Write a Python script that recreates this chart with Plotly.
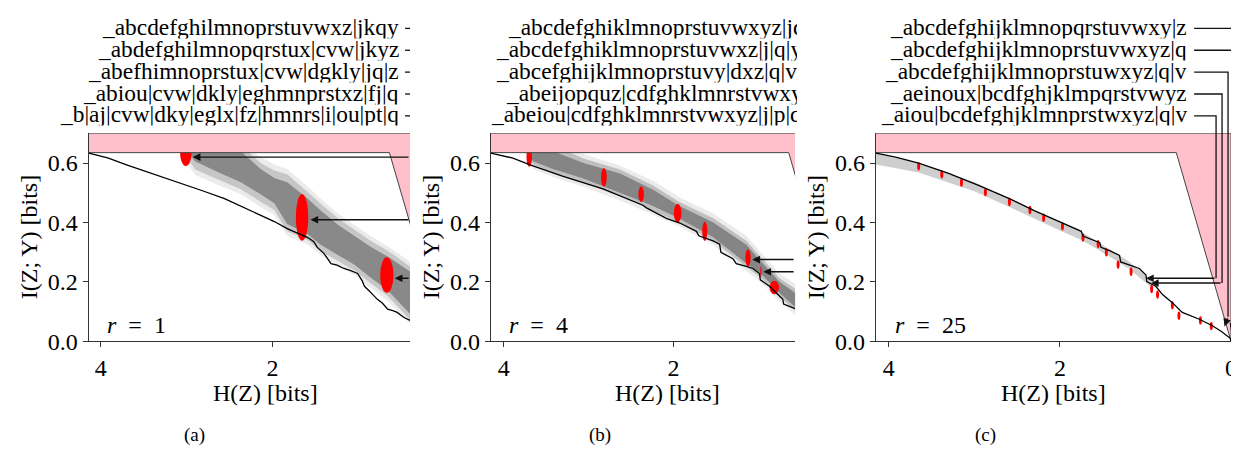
import plotly.graph_objects as go

FIG_W, FIG_H = 1239, 457

# ================= data =================
# lower frontier I(Z;Y) vs H(Z) for each panel
curve_a_h = [4.14, 3.92, 3.70, 3.40, 3.10, 2.80, 2.56, 2.25, 1.98, 1.83, 1.70, 1.59,
             1.52, 1.48, 1.40, 1.32, 1.25, 1.17, 1.09, 1.01, 0.96, 0.93, 0.85, 0.78,
             0.72, 0.66, 0.60, 0.55, 0.47, 0.40]
curve_a_i = [0.633, 0.617, 0.594, 0.565, 0.534, 0.505, 0.480, 0.440, 0.403, 0.379, 0.362, 0.349,
             0.335, 0.316, 0.295, 0.261, 0.256, 0.245, 0.238, 0.228, 0.205, 0.185, 0.162, 0.141,
             0.128, 0.108, 0.103, 0.097, 0.080, 0.070]

curve_b_h = [4.153, 3.90, 3.69, 3.30, 2.83, 2.36, 2.318, 2.082, 1.925, 1.729, 1.70, 1.533,
             1.455, 1.44, 1.298, 1.259, 1.141, 1.062, 0.985, 0.975, 0.867, 0.788, 0.71, 0.70, 0.565]
curve_b_i = [0.633, 0.617, 0.594, 0.555, 0.513, 0.458, 0.449, 0.414, 0.398, 0.370, 0.355, 0.338,
             0.327, 0.299, 0.278, 0.261, 0.252, 0.245, 0.228, 0.207, 0.185, 0.163, 0.141, 0.125, 0.110]

curve_c_h = [4.15, 3.92, 3.65, 3.30, 2.95, 2.59, 2.30, 2.00, 1.75, 1.73, 1.534, 1.52, 1.42,
             1.303, 1.29, 1.072, 0.994, 0.985, 0.879, 0.801, 0.686, 0.57, 0.378, 0.223, 0.108,
             0.01, 0.0]
curve_c_i = [0.633, 0.620, 0.600, 0.565, 0.525, 0.480, 0.440, 0.403, 0.370, 0.354, 0.332, 0.316,
             0.305, 0.289, 0.267, 0.245, 0.223, 0.201, 0.185, 0.157, 0.130, 0.097, 0.075, 0.053,
             0.032, 0.010, 0.0]

# grey cloud of candidate solutions: halo, envelope and darker core
band_a_h = [3.00, 2.90, 2.60, 2.37, 2.14, 1.98, 1.83, 1.59, 1.44, 1.24, 1.05, 0.86, 0.66, 0.40]
halo_a_top = [0.66, 0.66, 0.66, 0.66, 0.620, 0.595, 0.580, 0.520, 0.480, 0.430, 0.392, 0.354, 0.320, 0.268]
halo_a_bot = [0.60, 0.560, 0.522, 0.495, 0.452, 0.425, 0.355, 0.325, 0.290, 0.255, 0.224, 0.180, 0.136, 0.058]
band_a_top = [0.66, 0.66, 0.66, 0.66, 0.600, 0.575, 0.562, 0.502, 0.463, 0.414, 0.376, 0.338, 0.305, 0.252]
band_a_bot = [0.62, 0.578, 0.540, 0.512, 0.470, 0.442, 0.370, 0.340, 0.305, 0.270, 0.239, 0.196, 0.152, 0.072]
core_a_top = [0.66, 0.66, 0.650, 0.640, 0.580, 0.550, 0.535, 0.480, 0.440, 0.392, 0.355, 0.318, 0.285, 0.235]
core_a_bot = [0.64, 0.605, 0.565, 0.535, 0.495, 0.465, 0.395, 0.360, 0.325, 0.290, 0.258, 0.215, 0.172, 0.092]

band_b_h = [3.73, 3.65, 3.42, 3.06, 2.63, 2.24, 1.93, 1.53, 1.14, 0.97, 0.75, 0.55]
halo_b_top = [0.66, 0.66, 0.66, 0.630, 0.592, 0.540, 0.485, 0.430, 0.355, 0.300, 0.228, 0.190]
halo_b_bot = [0.61, 0.580, 0.553, 0.520, 0.474, 0.426, 0.386, 0.324, 0.236, 0.200, 0.135, 0.085]
band_b_top = [0.66, 0.66, 0.66, 0.615, 0.578, 0.524, 0.469, 0.414, 0.338, 0.283, 0.212, 0.174]
band_b_bot = [0.62, 0.594, 0.567, 0.534, 0.488, 0.440, 0.400, 0.338, 0.250, 0.215, 0.150, 0.100]
core_b_top = [0.66, 0.65, 0.64, 0.600, 0.565, 0.510, 0.455, 0.400, 0.325, 0.270, 0.200, 0.160]
core_b_bot = [0.63, 0.605, 0.58, 0.548, 0.500, 0.455, 0.413, 0.350, 0.262, 0.228, 0.163, 0.112]

band_c_h = [4.15, 3.65, 3.00, 2.59, 2.00, 1.73, 1.42, 1.20, 0.93]
band_c_top = [0.632, 0.600, 0.535, 0.480, 0.400, 0.365, 0.310, 0.270, 0.205]
band_c_bot = [0.595, 0.568, 0.505, 0.452, 0.373, 0.338, 0.285, 0.245, 0.182]

# red ellipses (selected solutions): centre H, centre I, width in H, height in I
red_a_h = [3.01, 1.657, 0.67]
red_a_i = [0.635, 0.417, 0.223]
red_a_w = [0.135, 0.144, 0.155]
red_a_ht = [0.09, 0.158, 0.12]

red_b_h = [3.70, 2.82, 2.38, 1.95, 1.63, 1.12, 0.968, 0.81]
red_b_i = [0.62, 0.552, 0.495, 0.432, 0.370, 0.281, 0.234, 0.181]
red_b_w = [0.065, 0.067, 0.066, 0.09, 0.06, 0.063, 0.015, 0.11]
red_b_ht = [0.065, 0.063, 0.052, 0.062, 0.065, 0.058, 0.037, 0.045]

red_c_h = [3.65, 3.38, 3.15, 2.87, 2.59, 2.35, 2.19, 1.97, 1.73, 1.553, 1.457, 1.32,
           1.168, 0.928, 0.859, 0.686, 0.609, 0.358, 0.231]
red_c_i = [0.589, 0.562, 0.534, 0.502, 0.469, 0.442, 0.416, 0.387, 0.349, 0.327, 0.299, 0.258,
           0.234, 0.176, 0.157, 0.121, 0.086, 0.070, 0.051]

# infeasible region (pink)
pink_h = [4.6, 0.0, 0.0, 0.64, 4.6]
pink_i = [0.70, 0.70, 0.0, 0.635, 0.635]

# annotated solutions (arrow heads)
arrow_a_h = [2.93, 1.56, 0.578]
arrow_a_i = [0.62, 0.409, 0.212]
arrow_b_h = [1.07, 0.94]
arrow_b_i = [0.275, 0.234]
arrow_c_h = [-0.027, 0.0, 0.077, 0.936, 0.994]
arrow_c_i = [0.017, 0.034, 0.050, 0.196, 0.212]

labels_a = ["_abcdefghilmnoprstuvwxz|jkqy",
            "_abdefghilmnopqrstux|cvw|jkyz",
            "_abefhimnoprstux|cvw|dgkly|jq|z",
            "_abiou|cvw|dkly|eghmnprstxz|fj|q",
            "_b|aj|cvw|dky|eglx|fz|hmnrs|i|ou|pt|q"]
labels_b = ["_abcdefghiklmnoprstuvwxyz|jq",
            "_abcdefghiklmnoprstuvwxz|j|q|y",
            "_abcefghijklmnoprstuvy|dxz|q|v",
            "_abeijopquz|cdfghklmnrstvwxyz",
            "_abeiou|cdfghklmnrstvwxyz|j|p|q"]
labels_c = ["_abcdefghijklmnopqrstuvwxy|z",
            "_abcdefghijklmnoprstuvwxyz|q",
            "_abcdefghijklmnoprstuwxyz|q|v",
            "_aeinoux|bcdfghjklmpqrstvwyz",
            "_aiou|bcdefghjklmnprstwxyz|q|v"]
r_values = ["1", "4", "25"]
captions = ["(a)", "(b)", "(c)"]
x_ticks = [[4, 2], [4, 2], [4, 2, 0]]
y_ticks = [0.0, 0.2, 0.4, 0.6]

# ================= layout (pixels) =================
Y_TOP_PX, Y_BOT_PX, Y_MAX = 129, 343, 0.70
PANELS = [
    dict(sfx="", px=(81, 403), rng=(4.14, 0.40)),
    dict(sfx="2", px=(484, 789), rng=(4.153, 0.565)),
    dict(sfx="3", px=(870, 1228.6), rng=(4.15, -0.03)),
]
SERIF = "'Liberation Serif', 'Times New Roman', Times, 'Nimbus Roman', 'DejaVu Serif', serif"
FS_LAB = 23.4
FS_AX = 24
LABEL_Y = [20, 42.5, 65, 87.5, 110]


def px2h(p, px):
    (a, b), (r0, r1) = p["px"], p["rng"]
    return r0 + (px - a) / (b - a) * (r1 - r0)


def i2py(i):
    return Y_BOT_PX - i / Y_MAX * (Y_BOT_PX - Y_TOP_PX)


def py2i(py):
    return (Y_BOT_PX - py) / (Y_BOT_PX - Y_TOP_PX) * Y_MAX


def pxp(px):
    return px / FIG_W


def pyp(py):
    return 1 - py / FIG_H


shapes = []
annotations = []


def band_shape(p, h, top, bot, color):
    pts = list(zip(h, top)) + list(zip(h[::-1], bot[::-1]))
    path = "M " + " L ".join(f"{x},{y}" for x, y in pts) + " Z"
    shapes.append(dict(type="path", xref="x" + p["sfx"], yref="y" + p["sfx"], path=path,
                       fillcolor=color, line=dict(width=0), layer="below"))


def ellipse_shapes(p, hs, is_, ws, hts):
    for h, i, w, ht in zip(hs, is_, ws, hts):
        shapes.append(dict(type="circle", xref="x" + p["sfx"], yref="y" + p["sfx"],
                           x0=h - w / 2, x1=h + w / 2, y0=i - ht / 2, y1=i + ht / 2,
                           fillcolor="red", line=dict(width=0), layer="below"))


def pink_shape(p):
    path = "M " + " L ".join(f"{x},{y}" for x, y in zip(pink_h, pink_i)) + " Z"
    shapes.append(dict(type="path", xref="x" + p["sfx"], yref="y" + p["sfx"], path=path,
                       fillcolor="pink", line=dict(width=1, color="#444"), layer="below"))


pa, pb, pc = PANELS
band_shape(pa, band_a_h, halo_a_top, halo_a_bot, "rgba(60,60,60,0.10)")
band_shape(pa, band_a_h, band_a_top, band_a_bot, "rgba(50,50,50,0.20)")
band_shape(pa, band_a_h, core_a_top, core_a_bot, "rgba(30,30,30,0.36)")
band_shape(pb, band_b_h, halo_b_top, halo_b_bot, "rgba(60,60,60,0.10)")
band_shape(pb, band_b_h, band_b_top, band_b_bot, "rgba(50,50,50,0.24)")
band_shape(pb, band_b_h, core_b_top, core_b_bot, "rgba(30,30,30,0.36)")
band_shape(pc, band_c_h, band_c_top, band_c_bot, "rgba(60,60,60,0.25)")
ellipse_shapes(pa, red_a_h, red_a_i, red_a_w, red_a_ht)
ellipse_shapes(pb, red_b_h, red_b_i, red_b_w, red_b_ht)
ellipse_shapes(pc, red_c_h, red_c_i, [0.035] * len(red_c_h), [0.028] * len(red_c_h))
for p in PANELS:
    pink_shape(p)

fig = go.Figure()
for p, hh, ii in zip(PANELS, [curve_a_h, curve_b_h, curve_c_h], [curve_a_i, curve_b_i, curve_c_i]):
    fig.add_trace(go.Scatter(x=hh, y=ii, mode="lines", line=dict(color="black", width=1.3),
                             xaxis="x" + p["sfx"], yaxis="y" + p["sfx"], showlegend=False,
                             hoverinfo="skip"))

ARROW = dict(showarrow=True, arrowhead=2, arrowsize=1.1, arrowwidth=1.4, arrowcolor="#111",
             standoff=0, text="")

# arrows from the right edge in panels (a) and (b)
for p, hs, is_ in [(pa, arrow_a_h, arrow_a_i), (pb, arrow_b_h, arrow_b_i)]:
    for h, i in zip(hs, is_):
        annotations.append(dict(ARROW, xref="x" + p["sfx"], yref="y" + p["sfx"], x=h, y=i,
                                axref="x" + p["sfx"], ayref="y" + p["sfx"], ax=p["rng"][1], ay=i))

TXT = dict(family=SERIF, size=FS_LAB, color="black")
AXT = dict(family=SERIF, size=FS_AX, color="black")
ROW_H = 22.5

# panel (a) labels (right aligned) + clipped connector stubs
for k, t in enumerate(labels_a):
    annotations.append(dict(xref="paper", yref="paper", x=pxp(393), y=pyp(LABEL_Y[k]),
                            xanchor="right", yanchor="middle", text=t, showarrow=False,
                            font=TXT, borderpad=0, height=ROW_H))
    shapes.append(dict(type="line", xref="paper", yref="paper", x0=pxp(398), x1=pxp(403),
                       y0=pyp(LABEL_Y[k] + 1), y1=pyp(LABEL_Y[k] + 1),
                       line=dict(color="#111", width=1.3)))

# panel (b) labels, clipped at the panel edge
starts_b = [500, 488, 488, 498, 483]
for k, t in enumerate(labels_b):
    annotations.append(dict(xref="paper", yref="paper", x=pxp(starts_b[k]), y=pyp(LABEL_Y[k]),
                            xanchor="left", yanchor="middle", text=t, showarrow=False,
                            width=789 - starts_b[k], height=ROW_H, borderpad=0,
                            align="left", font=TXT))

# panel (c) labels with elbow connectors
vx_c = [1235, 1229, 1223, 1217, 1211]
for k, t in enumerate(labels_c):
    annotations.append(dict(xref="paper", yref="paper", x=pxp(1183), y=pyp(LABEL_Y[k]),
                            xanchor="right", yanchor="middle", text=t, showarrow=False,
                            font=TXT, borderpad=0, height=ROW_H))
    ty = i2py(arrow_c_i[k])
    tail_py = ty if k >= 3 else ty - 10
    yl = LABEL_Y[k] + 1
    shapes.append(dict(type="path", xref="paper", yref="paper",
                       path=f"M {pxp(1189)},{pyp(yl)} L {pxp(vx_c[k])},{pyp(yl)} L {pxp(vx_c[k])},{pyp(tail_py)}",
                       line=dict(color="#111", width=1.3)))
    annotations.append(dict(ARROW, xref="x3", yref="y3", x=arrow_c_h[k], y=arrow_c_i[k],
                            axref="x3", ayref="y3", ax=px2h(pc, vx_c[k]), ay=py2i(tail_py)))

# r labels, axis titles, captions
r_x = [129, 532, 925]
xt_x = [258, 661, 1048]
yt_x = [21, 424, 810]
cap_x = [187, 593, 980]
for k in range(3):
    annotations.append(dict(xref="paper", yref="paper", x=pxp(r_x[k]), y=pyp(326),
                            xanchor="center", yanchor="middle", showarrow=False,
                            text=f"<i>r</i>\u2002=\u2002{r_values[k]}", font=AXT,
                            borderpad=0, height=24))
    annotations.append(dict(xref="paper", yref="paper", x=pxp(xt_x[k]), y=pyp(396),
                            xanchor="center", yanchor="middle", showarrow=False,
                            text="H(Z) [bits]", font=AXT, borderpad=0, height=25))
    annotations.append(dict(xref="paper", yref="paper", x=pxp(yt_x[k]), y=pyp(236),
                            xanchor="center", yanchor="middle", showarrow=False, textangle=-90,
                            text="I(Z; Y) [bits]", font=AXT, borderpad=0))
    annotations.append(dict(xref="paper", yref="paper", x=pxp(cap_x[k]), y=pyp(440),
                            xanchor="center", yanchor="middle", showarrow=False,
                            text=captions[k], font=dict(family=SERIF, size=19, color="black")))

layout = dict(width=FIG_W, height=FIG_H, margin=dict(l=0, r=0, t=0, b=0),
              plot_bgcolor="white", paper_bgcolor="white", showlegend=False,
              font=dict(family=SERIF, size=FS_AX, color="black"),
              shapes=shapes, annotations=annotations)
ydom = [pyp(Y_BOT_PX), pyp(Y_TOP_PX)]
for k, p in enumerate(PANELS):
    ax_common = dict(showline=True, linecolor="#333", linewidth=1.3, showgrid=False,
                     zeroline=False, ticks="outside", ticklen=5, tickwidth=1.2, tickcolor="#333",
                     tickfont=AXT)
    layout["xaxis" + p["sfx"]] = dict(ax_common, domain=[pxp(p["px"][0]), pxp(p["px"][1])],
                                      range=list(p["rng"]), tickvals=x_ticks[k],
                                      ticktext=[str(v) for v in x_ticks[k]],
                                      anchor="y" + p["sfx"])
    layout["yaxis" + p["sfx"]] = dict(ax_common, domain=ydom, range=[0, Y_MAX],
                                      tickvals=y_ticks, ticktext=[f"{v:.1f}" for v in y_ticks],
                                      anchor="x" + p["sfx"])
fig.update_layout(**layout)
fig.write_html("out.html")
